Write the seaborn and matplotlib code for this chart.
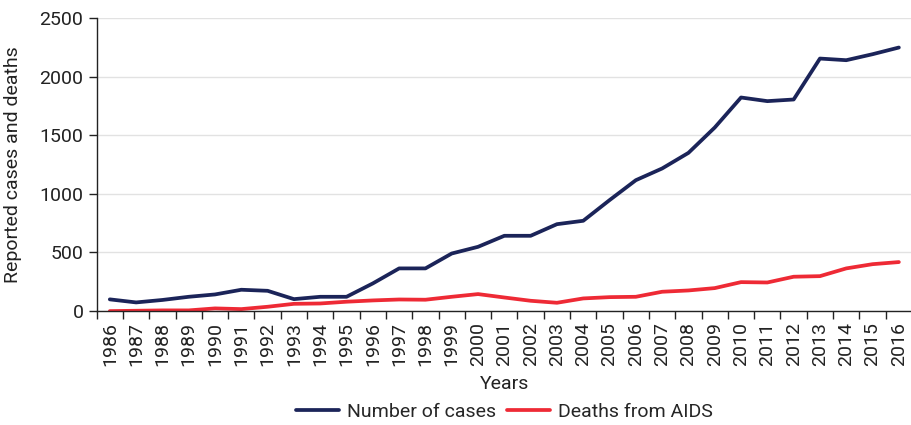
import matplotlib
matplotlib.use("Agg")
import matplotlib.pyplot as plt
import pandas as pd
import seaborn as sns
from matplotlib.ticker import FixedLocator

years = list(range(1986, 2017))
cases = [100, 74, 95, 122, 142, 182, 173, 102, 122, 122, 236, 364, 364, 491, 548,
         642, 642, 741, 770, 946, 1116, 1216, 1349, 1565, 1821, 1790, 1804, 2153,
         2139, 2190, 2247]
deaths = [0, 3, 6, 6, 23, 17, 37, 62, 65, 80, 91, 99, 97, 122, 145,
          116, 88, 71, 108, 119, 122, 165, 176, 196, 247, 244, 293, 298,
          364, 400, 418]

series_names = ["Number of cases", "Deaths from AIDS"]
colors = ["#1b2459", "#ee2a35"]

df = pd.DataFrame({"pos": list(range(len(years))) * 2,
                   "value": cases + deaths,
                   "series": [series_names[0]] * len(years) + [series_names[1]] * len(years)})

sns.set_theme(style="white")
plt.rcParams["font.family"] = ["Roboto", "DejaVu Sans"]

fig = plt.figure(figsize=(9.12, 4.25), dpi=100)
ax = fig.add_axes([0.106, 0.268, 0.894, 0.690])

sns.lineplot(data=df, x="pos", y="value", hue="series", palette=colors,
             linewidth=2.7, ax=ax)

ax.set_xlim(-0.5, len(years) - 0.5)
ax.set_ylim(0, 2500)
ax.set_yticks(range(0, 2501, 500))
ax.yaxis.grid(True, color="#e2e2e2", linewidth=1)
ax.set_axisbelow(True)

ax.set_xticks(range(len(years)))
ax.set_xticklabels([str(y) for y in years], rotation=90, fontsize=14, color="#222222")
ax.xaxis.set_minor_locator(FixedLocator([i - 0.5 for i in range(len(years) + 1)]))
ax.tick_params(axis="x", which="major", length=0, pad=8)
ax.tick_params(axis="x", which="minor", bottom=True, length=6, width=1, color="#222222")
ax.tick_params(axis="y", left=True, length=6, width=1, color="#222222",
               labelsize=14, labelcolor="#222222")

for s in ["top", "right"]:
    ax.spines[s].set_visible(False)
for s in ["left", "bottom"]:
    ax.spines[s].set_color("#222222")
    ax.spines[s].set_linewidth(1)

ax.set_xlabel("Years", fontsize=14, color="#222222", labelpad=6)
ax.set_ylabel("Reported cases and deaths", fontsize=14, color="#222222", labelpad=4)
ax.yaxis.set_label_coords(-0.092, 0.5)

ax.legend(loc="center", bbox_to_anchor=(0.5, -0.345), ncol=2, frameon=False,
          fontsize=14, handlelength=2.2, columnspacing=0.6, handletextpad=0.4,
          borderaxespad=0, borderpad=0)

fig.savefig("out.png", dpi=100)
